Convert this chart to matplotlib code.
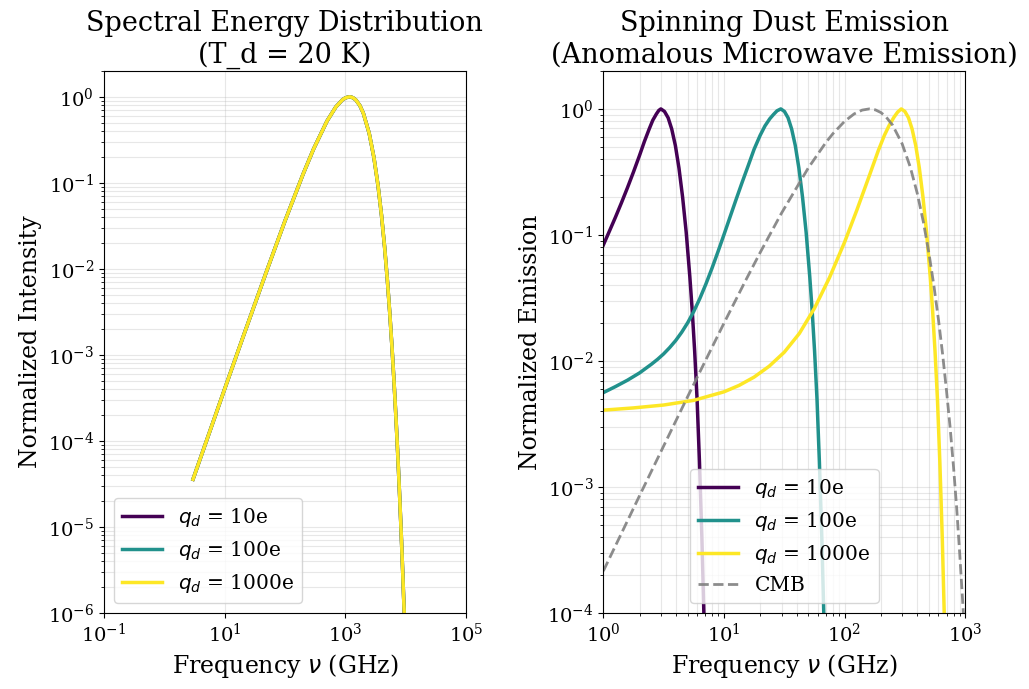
import numpy as np
import matplotlib
matplotlib.use('Agg')
import matplotlib.pyplot as plt
from matplotlib.ticker import NullLocator

plt.rcParams['font.family'] = 'serif'

# --- left panel: thermal dust SED (same curve for every charge) ---
sed_freq = [3, 5, 10, 20, 50, 100, 200, 300, 500, 700, 900, 1000, 1100, 1175, 1250,
            1350, 1500, 1750, 2000, 2500, 3000, 3500, 4000, 4500, 5000, 5500, 6000,
            6500, 7000, 7500, 8000, 8500, 9000, 9500, 10000]
sed_intensity = [3.6e-5, 1.0e-4, 4.0e-4, 1.58e-3, 9.5e-3, 0.0359, 0.126, 0.249, 0.524,
                 0.764, 0.924, 0.970, 0.992, 1.0, 0.996, 0.975, 0.922, 0.794, 0.646,
                 0.378, 0.196, 0.0938, 0.0422, 0.0181, 7.47e-3, 2.99e-3, 1.17e-3,
                 4.48e-4, 1.69e-4, 6.25e-5, 2.29e-5, 8.3e-6, 2.95e-6, 1.05e-6, 3.7e-7]

charges = ['10e', '100e', '1000e']
colors = ['#440154', '#21918c', '#fde725']

# --- right panel: spinning dust emission ---
freq_q10 = [1.0, 1.122, 1.259, 1.413, 1.585, 1.778, 1.995, 2.188, 2.399, 2.570,
            2.754, 2.884, 3.0, 3.214, 3.445, 3.691, 3.955, 4.238, 4.541, 4.865,
            5.213, 5.459, 5.717, 5.986, 6.268, 6.563, 6.794, 7.033]
emis_q10 = [0.0832, 0.107, 0.138, 0.180, 0.237, 0.316, 0.427, 0.550, 0.692, 0.813,
            0.912, 0.973, 1.0, 0.955, 0.851, 0.692, 0.513, 0.339, 0.200, 0.105,
            0.0468, 0.0251, 0.0120, 5.01e-3, 1.58e-3, 3.98e-4, 1.12e-4, 3.16e-5]

freq_q100 = [1.0, 1.259, 1.585, 1.995, 2.512, 2.818, 3.162, 3.548, 3.981, 4.467,
             5.012, 5.623, 6.310, 7.079, 7.943, 8.913, 10.0, 11.22, 12.59, 14.13,
             15.85, 17.78, 19.95, 21.88, 23.99, 25.70, 27.54, 29.6, 31.72, 33.99,
             36.42, 39.02, 41.81, 44.80, 48.01, 51.44, 53.86, 56.40, 59.06, 61.84,
             64.76, 67.03, 69.39]
emis_q100 = [5.62e-3, 6.27e-3, 7.05e-3, 8.05e-3, 9.46e-3, 0.01033, 0.01140, 0.01279,
             0.01455, 0.01694, 0.02018, 0.02477, 0.03133, 0.04074, 0.05420, 0.07345,
             0.1005, 0.1384, 0.1905, 0.2606, 0.3524, 0.4786, 0.6166, 0.7328, 0.8356,
             0.9016, 0.9661, 1.0, 0.955, 0.851, 0.692, 0.513, 0.339, 0.200, 0.105,
             0.0468, 0.0251, 0.0120, 5.01e-3, 1.58e-3, 3.98e-4, 1.12e-4, 3.16e-5]

freq_q1000 = [1.0, 1.778, 3.162, 5.623, 10.0, 13.34, 17.78, 23.71, 31.62, 42.17,
              56.23, 74.99, 100, 125.9, 158.5, 190.5, 213.8, 234.4, 257.0, 275.4,
              295, 316.1, 338.7, 362.9, 388.9, 416.7, 446.5, 478.4, 512.7, 536.8,
              562.1, 588.6, 616.3, 645.4, 668.1, 691.5]
emis_q1000 = [4.08e-3, 4.25e-3, 4.48e-3, 4.88e-3, 5.70e-3, 6.41e-3, 7.46e-3, 9.10e-3,
              0.01175, 0.01656, 0.02618, 0.04592, 0.0877, 0.156, 0.286, 0.468, 0.617,
              0.741, 0.861, 0.944, 1.0, 0.955, 0.851, 0.692, 0.513, 0.339, 0.200,
              0.105, 0.0468, 0.0251, 0.0120, 5.01e-3, 1.58e-3, 3.98e-4, 1.12e-4,
              3.16e-5]

cmb_freq = [1, 2, 3, 5, 10, 15, 20, 30, 50, 70, 80, 100, 120, 140, 160, 180, 200,
            220, 250, 300, 350, 400, 450, 500, 550, 600, 650, 700, 750, 800, 850,
            900, 950, 1000]
cmb_emis = [2.16e-4, 8.58e-4, 1.91e-3, 5.22e-3, 0.01996, 0.0429, 0.0728, 0.149,
            0.340, 0.542, 0.636, 0.797, 0.913, 0.979, 1.0, 0.983, 0.936, 0.868,
            0.744, 0.529, 0.347, 0.215, 0.127, 0.072, 0.0397, 0.0214, 0.0113,
            5.8e-3, 2.97e-3, 1.45e-3, 6.8e-4, 3.0e-4, 1.3e-4, 5.5e-5]

spin_freqs = [freq_q10, freq_q100, freq_q1000]
spin_emis = [emis_q10, emis_q100, emis_q1000]

fig, (ax1, ax2) = plt.subplots(1, 2, figsize=(10.29, 6.89), dpi=100)
fig.subplots_adjust(left=0.101, right=0.938, top=0.897, bottom=0.110, wspace=0.38)

for q, c in zip(charges, colors):
    ax1.loglog(sed_freq, sed_intensity, color=c, lw=2.5, label=r'$q_d$ = ' + q)
ax1.set_xlim(1e-1, 1e5)
ax1.set_ylim(1e-6, 2)
ax1.set_xticks([1e-1, 1e1, 1e3, 1e5])
ax1.xaxis.set_minor_locator(NullLocator())
ax1.set_xlabel(r'Frequency $\nu$ (GHz)', fontsize=17)
ax1.set_ylabel('Normalized Intensity', fontsize=17)
ax1.set_title('Spectral Energy Distribution\n(T_d = 20 K)', fontsize=19.5)
ax1.grid(True, which='both', alpha=0.3)
ax1.legend(loc='lower left', fontsize=14.5)
ax1.tick_params(labelsize=14)

for f, e, q, c in zip(spin_freqs, spin_emis, charges, colors):
    ax2.loglog(f, e, color=c, lw=2.5, label=r'$q_d$ = ' + q)
ax2.loglog(cmb_freq, cmb_emis, '--', color='gray', lw=2, alpha=0.9, label='CMB')
ax2.set_xlim(1, 1e3)
ax2.set_ylim(1e-4, 2)
ax2.set_xlabel(r'Frequency $\nu$ (GHz)', fontsize=17)
ax2.set_ylabel('Normalized Emission', fontsize=17)
ax2.set_title('Spinning Dust Emission\n(Anomalous Microwave Emission)', fontsize=19.5)
ax2.grid(True, which='both', alpha=0.3)
ax2.legend(loc='lower center', fontsize=14.5)
ax2.tick_params(labelsize=14)

fig.savefig('out.png', dpi=100)
